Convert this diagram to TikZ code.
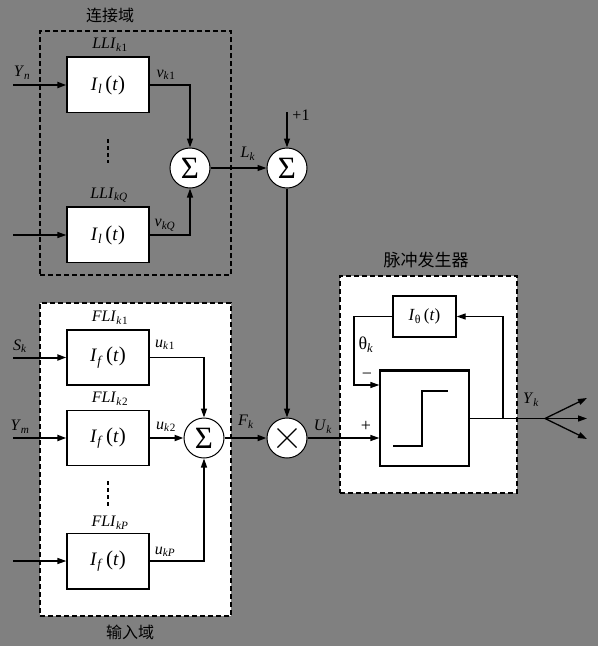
\documentclass[tikz,border=0pt]{standalone}
\usepackage{fontspec}
\setmainfont{Liberation Serif}
\newfontfamily\cjk{Noto Sans CJK SC}
\usetikzlibrary{arrows.meta}
\definecolor{bg}{RGB}{128,128,128}
\newcommand{\lb}[2]{\textit{#1}\textsubscript{\textit{#2}}}
\newcommand{\pt}{{\fontsize{21}{21}\selectfont(}\textit{t}{\fontsize{21}{21}\selectfont)}}
\begin{document}
\begin{tikzpicture}[x=1pt,y=-1pt,
  sig/.style={-{Triangle[length=9pt,width=6pt]}, line width=1.3pt},
  heavy/.style={line width=2pt},
  wire/.style={line width=1.3pt},
  blk/.style={draw, fill=white, line width=1.3pt, minimum width=82pt, minimum height=55pt, inner sep=0pt, font=\fontsize{19}{19}\selectfont},
  sumnode/.style={circle, draw, fill=white, line width=1pt, minimum size=40pt, inner sep=0pt, font=\fontsize{31}{31}\selectfont},
  lbl/.style={inner sep=0pt, font=\fontsize{16}{16}\selectfont},
  dom/.style={draw, line width=1.2pt, dash pattern=on 5pt off 3pt, inner sep=0pt},
  ttl/.style={inner sep=0pt, font=\cjk\fontsize{16}{16}\selectfont}]

\path[fill=bg] (0,0) rectangle (598,646);

% domains
\node[dom, minimum width=191pt, minimum height=244pt] (cdom) at (135.5,153) {};
\node[dom, fill=white, minimum width=191pt, minimum height=313pt] (idom) at (135.5,459.5) {};
\node[dom, fill=white, minimum width=177pt, minimum height=217pt] (pdom) at (428.5,384.5) {};
\node[ttl] (tc) at (110,15) {连接域};
\node[ttl] (ti) at (130,632) {输入域};
\node[ttl, font=\cjk\fontsize{17}{17}\selectfont] (tp) at (426,260) {脉冲发生器};

% blocks
\node[blk] (l1) at (108,85) {\lb{I}{l}\,\pt};
\node[blk] (l2) at (108,235) {\lb{I}{l}\,\pt};
\node[blk] (f1) at (108,357.5) {\lb{I}{f}\,\pt};
\node[blk] (f2) at (108,438) {\lb{I}{f}\,\pt};
\node[blk] (f3) at (108,561) {\lb{I}{f}\,\pt};
\node[blk, minimum width=63pt, minimum height=41pt, font=\fontsize{17}{17}\selectfont] (ith) at (424.5,316.5) {\textit{I}\textsubscript{θ}\,(\textit{t})};
\node[blk, minimum width=89pt, minimum height=95pt] (st) at (424.5,418.5) {};
\draw[line width=1.8pt] ([shift={(-31.5,27.5)}]st.center) -- ([shift={(-2.5,27.5)}]st.center) -- ([shift={(-2.5,-27.5)}]st.center) -- ([shift={(23.5,-27.5)}]st.center);
% thicker top edges as in the reference
\draw[line width=2.6pt] (l1.north west) -- (l1.north east);
\draw[line width=2.6pt] (l2.north west) -- (l2.north east);
\draw[line width=2.6pt] (st.north west) -- (st.north east);
\draw[line width=2.6pt] (f3.south west) -- (f3.south east);

% sum / product nodes
\node[sumnode] (s1) at (190,168) {Σ};
\node[sumnode] (s2) at (287,168) {Σ};
\node[sumnode] (s3) at (204,438) {Σ};
\node[sumnode] (m) at (287,438) {};
\draw[line width=1.3pt] ([shift={(-9.5,-9.5)}]m.center) -- ([shift={(9.5,9.5)}]m.center);
\draw[line width=1.3pt] ([shift={(-9.5,9.5)}]m.center) -- ([shift={(9.5,-9.5)}]m.center);

% dots
\draw[line width=1.3pt, dash pattern=on 4pt off 3pt] (108,139) -- (108,163);
\draw[line width=1.3pt, dash pattern=on 4pt off 3pt] (108,481) -- (108,506);

% inputs
\coordinate (in1) at (13,85);
\coordinate (in2) at (13,235);
\coordinate (in3) at (13,357.5);
\coordinate (in4) at (13,438);
\coordinate (in5) at (13,561);
\draw[sig, heavy] (in1) -- (l1.west);
\draw[sig] (in2) -- (l2.west);
\draw[sig, heavy] (in3) -- (f1.west);
\draw[sig, heavy] (in4) -- (f2.west);
\draw[sig] (in5) -- (f3.west);

% connections
\draw[sig] (l1.east) -| (s1.north);
\draw[sig] (l2.east) -| (s1.south);
\draw[sig] (s1) -- (s2);
\coordinate (p1) at (287,112);
\draw[sig] (p1) -- (s2.north);
\draw[sig] (s2) -- (m);
\draw[sig] (f1.east) -| (s3.north);
\draw[sig, heavy] (f2.east) -- (s3.west);
\draw[sig] (f3.east) -| (s3.south);
\draw[sig, heavy] (s3) -- (m);
\draw[sig] (m.east) -- (m.east -| st.west);

% pulse generator internals
\coordinate (fan) at (545,418.5);
\coordinate (fb) at (503,418.5);
\coordinate (c1) at (354,385);
\draw[wire] (st.east) -- (fan);
\draw[sig] (fb) |- (ith.east);
\draw[sig] (ith.west) -| (c1) -- (c1 -| st.west);
\coordinate (o1) at (587,398);
\coordinate (o2) at (587,418.5);
\coordinate (o3) at (587,439);
\draw[sig] (fan) -- (o1);
\draw[sig] (fan) -- (o2);
\draw[sig] (fan) -- (o3);

% labels
\node[lbl] (tl1) at (110,45) {\lb{LLI}{k}\textsubscript{1}};
\node[lbl] (tl2) at (109,195) {\lb{LLI}{kQ}};
\node[lbl] (tf1) at (110,318) {\lb{FLI}{k}\textsubscript{1}};
\node[lbl] (tf2) at (110,399) {\lb{FLI}{k}\textsubscript{2}};
\node[lbl] (tf3) at (110,523) {\lb{FLI}{kP}};
\node[lbl] (yn) at (22,73) {\lb{Y}{n}};
\node[lbl] (sk) at (20,346) {\lb{S}{k}};
\node[lbl] (ym) at (20,427) {\lb{Y}{m}};
\node[lbl] (v1) at (166,75) {\lb{v}{k}\textsubscript{1}};
\node[lbl] (v2) at (165,225) {\lb{v}{kQ}};
\node[lbl] (u1) at (165,345) {\lb{u}{k}\textsubscript{1}};
\node[lbl] (u2) at (166,427) {\lb{u}{k}\textsubscript{2}};
\node[lbl] (u3) at (165,552) {\lb{u}{kP}};
\node[lbl] (lk) at (248,154) {\lb{L}{k}};
\node[lbl] (fk) at (246,422) {\lb{F}{k}};
\node[lbl] (uk) at (323,427) {\lb{U}{k}};
\node[lbl] (one) at (301,115) {+1};
\node[lbl, font=\fontsize{18}{18}\selectfont] (pl) at (366,426) {+};
\node[lbl, font=\fontsize{18}{18}\selectfont] (mi) at (367,376) {−};
\node[lbl, font=\fontsize{18}{18}\selectfont] (th) at (366,345) {θ\textsubscript{\textit{k}}};
\node[lbl] (yk) at (531,400) {\lb{Y}{k}};
\end{tikzpicture}
\end{document}
